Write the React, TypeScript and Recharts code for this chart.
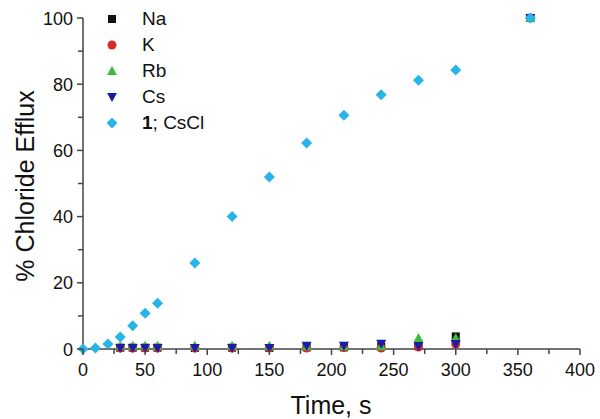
import React from 'react';
import { ScatterChart, Scatter, XAxis, YAxis } from 'recharts';

const cloTimes = [0, 10, 20, 30, 40, 50, 60, 90, 120, 150, 180, 210, 240, 270, 300, 360];
const cloEfflux = [0, 0.3, 1.5, 3.6, 7, 10.8, 13.8, 26, 40, 52, 62.2, 70.6, 76.8, 81.2, 84.3, 100];

const saltTimes = [30, 40, 50, 60, 90, 120, 150, 180, 210, 240, 270, 300, 360];
const naEfflux = [0.4, 0.4, 0.4, 0.4, 0.3, 0.4, 0.3, 0.5, 0.5, 0.8, 1, 3.8, 100];
const kEfflux = [0.3, 0.3, 0.3, 0.3, 0.3, 0.3, 0.3, 0.3, 0.4, 0.3, 0.6, 1.5, 100];
const rbEfflux = [1, 1, 1, 1, 1, 1, 1, 0.8, 0.8, 0.8, 3.3, 3.3, 100];
const csEfflux = [0.3, 0.3, 0.3, 0.3, 0.3, 0.3, 0.3, 1, 1, 1.6, 0.8, 1.5, 100];

const xTicks = [0, 25, 50, 75, 100, 125, 150, 175, 200, 225, 250, 275, 300, 325, 350, 375, 400];
const yTicks = [0, 10, 20, 30, 40, 50, 60, 70, 80, 90, 100];

const FONT = '"Liberation Sans", Arial, sans-serif';
const AXIS = '#444';

const toPoints = (xs: number[], ys: number[]) => xs.map((t, i) => ({ t, v: ys[i] }));

const square = (color: string) => (p: any) => (
  <rect x={p.cx - 4} y={p.cy - 4} width={8} height={8} fill={color} />
);
const circle = (color: string) => (p: any) => <circle cx={p.cx} cy={p.cy} r={4.5} fill={color} />;
const triUp = (color: string) => (p: any) => (
  <polygon points={`${p.cx},${p.cy - 5} ${p.cx + 5},${p.cy + 4} ${p.cx - 5},${p.cy + 4}`} fill={color} />
);
const triDown = (color: string) => (p: any) => (
  <polygon points={`${p.cx},${p.cy + 5} ${p.cx + 5},${p.cy - 4} ${p.cx - 5},${p.cy - 4}`} fill={color} />
);
const diamond = (color: string) => (p: any) => (
  <polygon points={`${p.cx},${p.cy - 5.5} ${p.cx + 5.5},${p.cy} ${p.cx},${p.cy + 5.5} ${p.cx - 5.5},${p.cy}`} fill={color} />
);

const series = [
  { name: 'Na', color: '#111111', shape: square, data: toPoints(saltTimes, naEfflux) },
  { name: 'K', color: '#d42a2a', shape: circle, data: toPoints(saltTimes, kEfflux) },
  { name: 'Rb', color: '#3dbb3d', shape: triUp, data: toPoints(saltTimes, rbEfflux) },
  { name: 'Cs', color: '#1c1ca8', shape: triDown, data: toPoints(saltTimes, csEfflux) },
  { name: 'CsCl', color: '#27b4e6', shape: diamond, data: toPoints(cloTimes, cloEfflux) },
];

const XTick = (props: any) => {
  const { x, y, payload } = props;
  const major = payload.value % 50 === 0;
  return (
    <g>
      <line x1={x} x2={x} y1={y} y2={y + (major ? 6 : 5)} stroke={AXIS} strokeWidth={1.5} />
      {major && (
        <text x={x} y={y + 27} textAnchor="middle" fontSize={18} fontFamily={FONT} fill="#111">
          {payload.value}
        </text>
      )}
    </g>
  );
};

const YTick = (props: any) => {
  const { x, y, payload } = props;
  const major = payload.value % 20 === 0;
  return (
    <g>
      <line x1={x} x2={x - (major ? 6 : 5)} y1={y} y2={y} stroke={AXIS} strokeWidth={1.5} />
      {major && (
        <text x={x - 10} y={y + 6.5} textAnchor="end" fontSize={18} fontFamily={FONT} fill="#111">
          {payload.value}
        </text>
      )}
    </g>
  );
};

const LegendBox = () => (
  <div style={{ position: 'absolute', left: 104, top: 6, fontFamily: FONT, fontSize: 19, color: '#111' }}>
    {series.map((s) => (
      <div key={s.name} style={{ height: 26, display: 'flex', alignItems: 'center' }}>
        <svg width={24} height={14} style={{ marginRight: 14 }}>
          {s.shape(s.color)({ cx: 8, cy: 7 })}
        </svg>
        <span>
          {s.name === 'CsCl' ? (
            <>
              <b>1</b>; CsCl
            </>
          ) : (
            s.name
          )}
        </span>
      </div>
    ))}
  </div>
);

export default function App() {
  return (
    <div style={{ position: 'absolute', left: 0, top: 0, width: 600, height: 419, background: '#fff' }}>
      <ScatterChart width={600} height={419} margin={{ top: 18, right: 20, bottom: 0, left: 0 }}>
        <XAxis
          type="number"
          dataKey="t"
          domain={[0, 400]}
          ticks={xTicks}
          interval={0}
          height={70}
          tickSize={0}
          tickMargin={0}
          tickLine={false}
          tick={<XTick />}
          stroke={AXIS}
          strokeWidth={1.5}
          label={{
            content: () => (
              <text x={331} y={414} textAnchor="middle" fontSize={25} fontFamily={FONT} fill="#111">
                Time, s
              </text>
            ),
          }}
        />
        <YAxis
          type="number"
          dataKey="v"
          domain={[0, 100]}
          ticks={yTicks}
          interval={0}
          width={83}
          tickSize={0}
          tickMargin={0}
          tickLine={false}
          tick={<YTick />}
          stroke={AXIS}
          strokeWidth={1.5}
          label={{
            content: () => (
              <text
                x={25}
                y={186}
                transform="rotate(-90 25 186)"
                textAnchor="middle"
                dominantBaseline="central"
                fontSize={25}
                fontFamily={FONT}
                fill="#111"
              >
                % Chloride Efflux
              </text>
            ),
          }}
        />
        {series.map((s) => (
          <Scatter
            key={s.name}
            name={s.name}
            data={s.data}
            fill={s.color}
            shape={s.shape(s.color)}
            isAnimationActive={false}
          />
        ))}
      </ScatterChart>
      <LegendBox />
    </div>
  );
}
